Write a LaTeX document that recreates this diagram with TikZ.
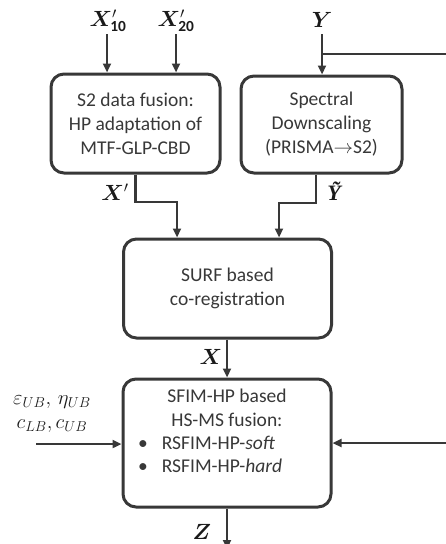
\RequirePackage{fix-cm}
\documentclass[tikz,border=0pt]{standalone}
\usepackage{amsmath}
\usepackage{bm}
\usepackage{fontspec}
\setmainfont{Carlito}
\newfontfamily\labfont{Liberation Serif}
\usetikzlibrary{arrows.meta,calc}
\definecolor{ln}{HTML}{383838}
\definecolor{tx}{HTML}{383838}
\definecolor{lb}{HTML}{1A1A1A}
\begin{document}
\begin{tikzpicture}[x=1pt,y=-1pt,
  box/.style={draw=ln, line width=3pt, rounded corners=13pt, text=tx, align=center,
    font=\fontsize{19.5}{24}\selectfont, inner sep=0pt},
  conn/.style={draw=ln, line width=2.8pt, -{Triangle[length=9pt,width=8pt]}},
  lab/.style={font=\fontsize{22}{26}\selectfont, inner sep=0pt, text=lb},
  btxt/.style={font=\fontsize{19.5}{24}\selectfont, inner sep=0pt, text=tx}]
\useasboundingbox (0,0) rectangle (446,544);

% boxes
\node[box, minimum width=169pt, minimum height=99pt] (s2) at (135.5,123.5)
  {S2 data fusion:\\HP adaptation of\\MTF-GLP-CBD};
\node[box, minimum width=161pt, minimum height=97pt] (spec) at (321.5,124.5)
  {Spectral\\Downscaling\\(PRISMA$\rightarrow$S2)};
\node[box, minimum width=208pt, minimum height=99pt] (surf) at (227.5,288.5)
  {SURF based\\co-registration};
\node[box, minimum width=208pt, minimum height=128pt] (fus) at (227,443) {};
\node[btxt, align=center] (fustitle) at (227,408) {SFIM-HP based\\HS-MS fusion:};
\node[btxt, anchor=west] (fuslist) at (138,456.5)
  {\begin{tabular}{@{}l@{\hspace{14pt}}l@{}}
   \textbullet & RSFIM-HP-\textit{soft}\\[-1pt]
   \textbullet & RSFIM-HP-\textit{hard}
   \end{tabular}};

% input labels
\node[lab] (lx10) at (108,21) {$\bm{X}'_{\mathbf{10}}$};
\node[lab] (lx20) at (176,21) {$\bm{X}'_{\mathbf{20}}$};
\node[lab] (ly) at (322,20) {$\bm{Y}$};
\node[lab] (lxp) at (115,192) {$\bm{X}'$};
\node[lab, font=\labfont\fontsize{22}{26}\selectfont\bfseries\itshape] (lyt) at (334,191) {Ỹ};
\node[lab] (lx) at (211,357) {$\bm{X}$};
\node[lab] (lz) at (202,532) {$\bm{Z}$};
\node[lab, font=\fontsize{20.5}{24}\selectfont] (leps) at (52,402) {$\varepsilon_{UB},\,\eta_{UB}$};
\node[lab, font=\fontsize{20.5}{24}\selectfont] (lc) at (52,426) {$c_{LB},c_{UB}$};

% coordinates
\coordinate (a10) at (107,34);
\coordinate (a20) at (176,34);
\coordinate (ay) at (322,34);
\coordinate (yb) at (322,54);
\coordinate (edge) at (450,54);
\coordinate (p1) at (177,202);
\coordinate (p2) at (279,203);
\coordinate (pin) at (36,444);
\coordinate (zend) at (227,549);

% connectors
\draw[conn] (a10) -- (a10 |- s2.north);
\draw[conn] (a20) -- (a20 |- s2.north);
\draw[conn] (ay) -- (ay |- spec.north);
\draw[conn] (yb) -- (edge) |- (fus.east);
\draw[conn] (s2.south) |- (p1) -- (p1 |- surf.north);
\draw[conn] ([xshift=-5.5pt]spec.south) |- (p2) -- (p2 |- surf.north);
\draw[conn] (fus.north |- surf.south) -- (fus.north);
\draw[conn] (fus.south) -- (zend);
\draw[conn] (pin) -- (pin -| fus.west);
\end{tikzpicture}
\end{document}
